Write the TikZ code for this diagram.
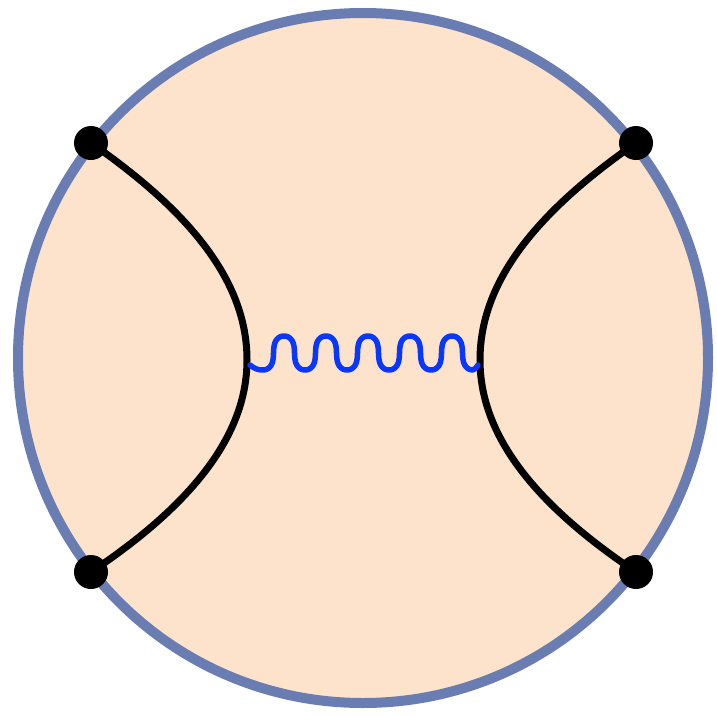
\documentclass[tikz,border=0pt]{standalone}
\definecolor{rim}{HTML}{6A7DB3}
\definecolor{peach}{HTML}{FDE3CB}
\definecolor{wave}{HTML}{0A37FF}
\tikzset{
  dot/.style={circle,fill=black,inner sep=0pt,minimum size=34pt},
  line/.style={line width=7pt,black},
  wavy/.style={line width=5.5pt,wave,line cap=round,line join=round}
}
\begin{document}
\begin{tikzpicture}[x=1pt,y=-1pt]
\useasboundingbox (0,0) rectangle (717,715);
\draw[line width=10pt,rim,fill=peach] (363,358) circle[radius=345];
\coordinate (vl) at (247,360);
\coordinate (vr) at (480,360);
\node[dot] (tl) at (91,143) {};
\node[dot] (bl) at (91,572) {};
\node[dot] (tr) at (636,143) {};
\node[dot] (br) at (636,572) {};
\draw[line] (tl.center) .. controls (205,222) and (247,292) .. (vl) .. controls (247,426) and (205,496) .. (bl.center);
\draw[line] (tr.center) .. controls (522,222) and (480,292) .. (vr) .. controls (480,426) and (522,496) .. (br.center);
\coordinate (ws) at (250,365);
\coordinate (we) at (478,365);
\draw[wavy] (ws) to[out=-40,in=180] (263,370)
  -- plot[domain=0:5,samples=300,smooth,variable=\t] ({263+42*\t+3*sin(720*\t)},{353+17*cos(360*\t)})
  to[out=0,in=-140] (we);
\end{tikzpicture}
\end{document}
